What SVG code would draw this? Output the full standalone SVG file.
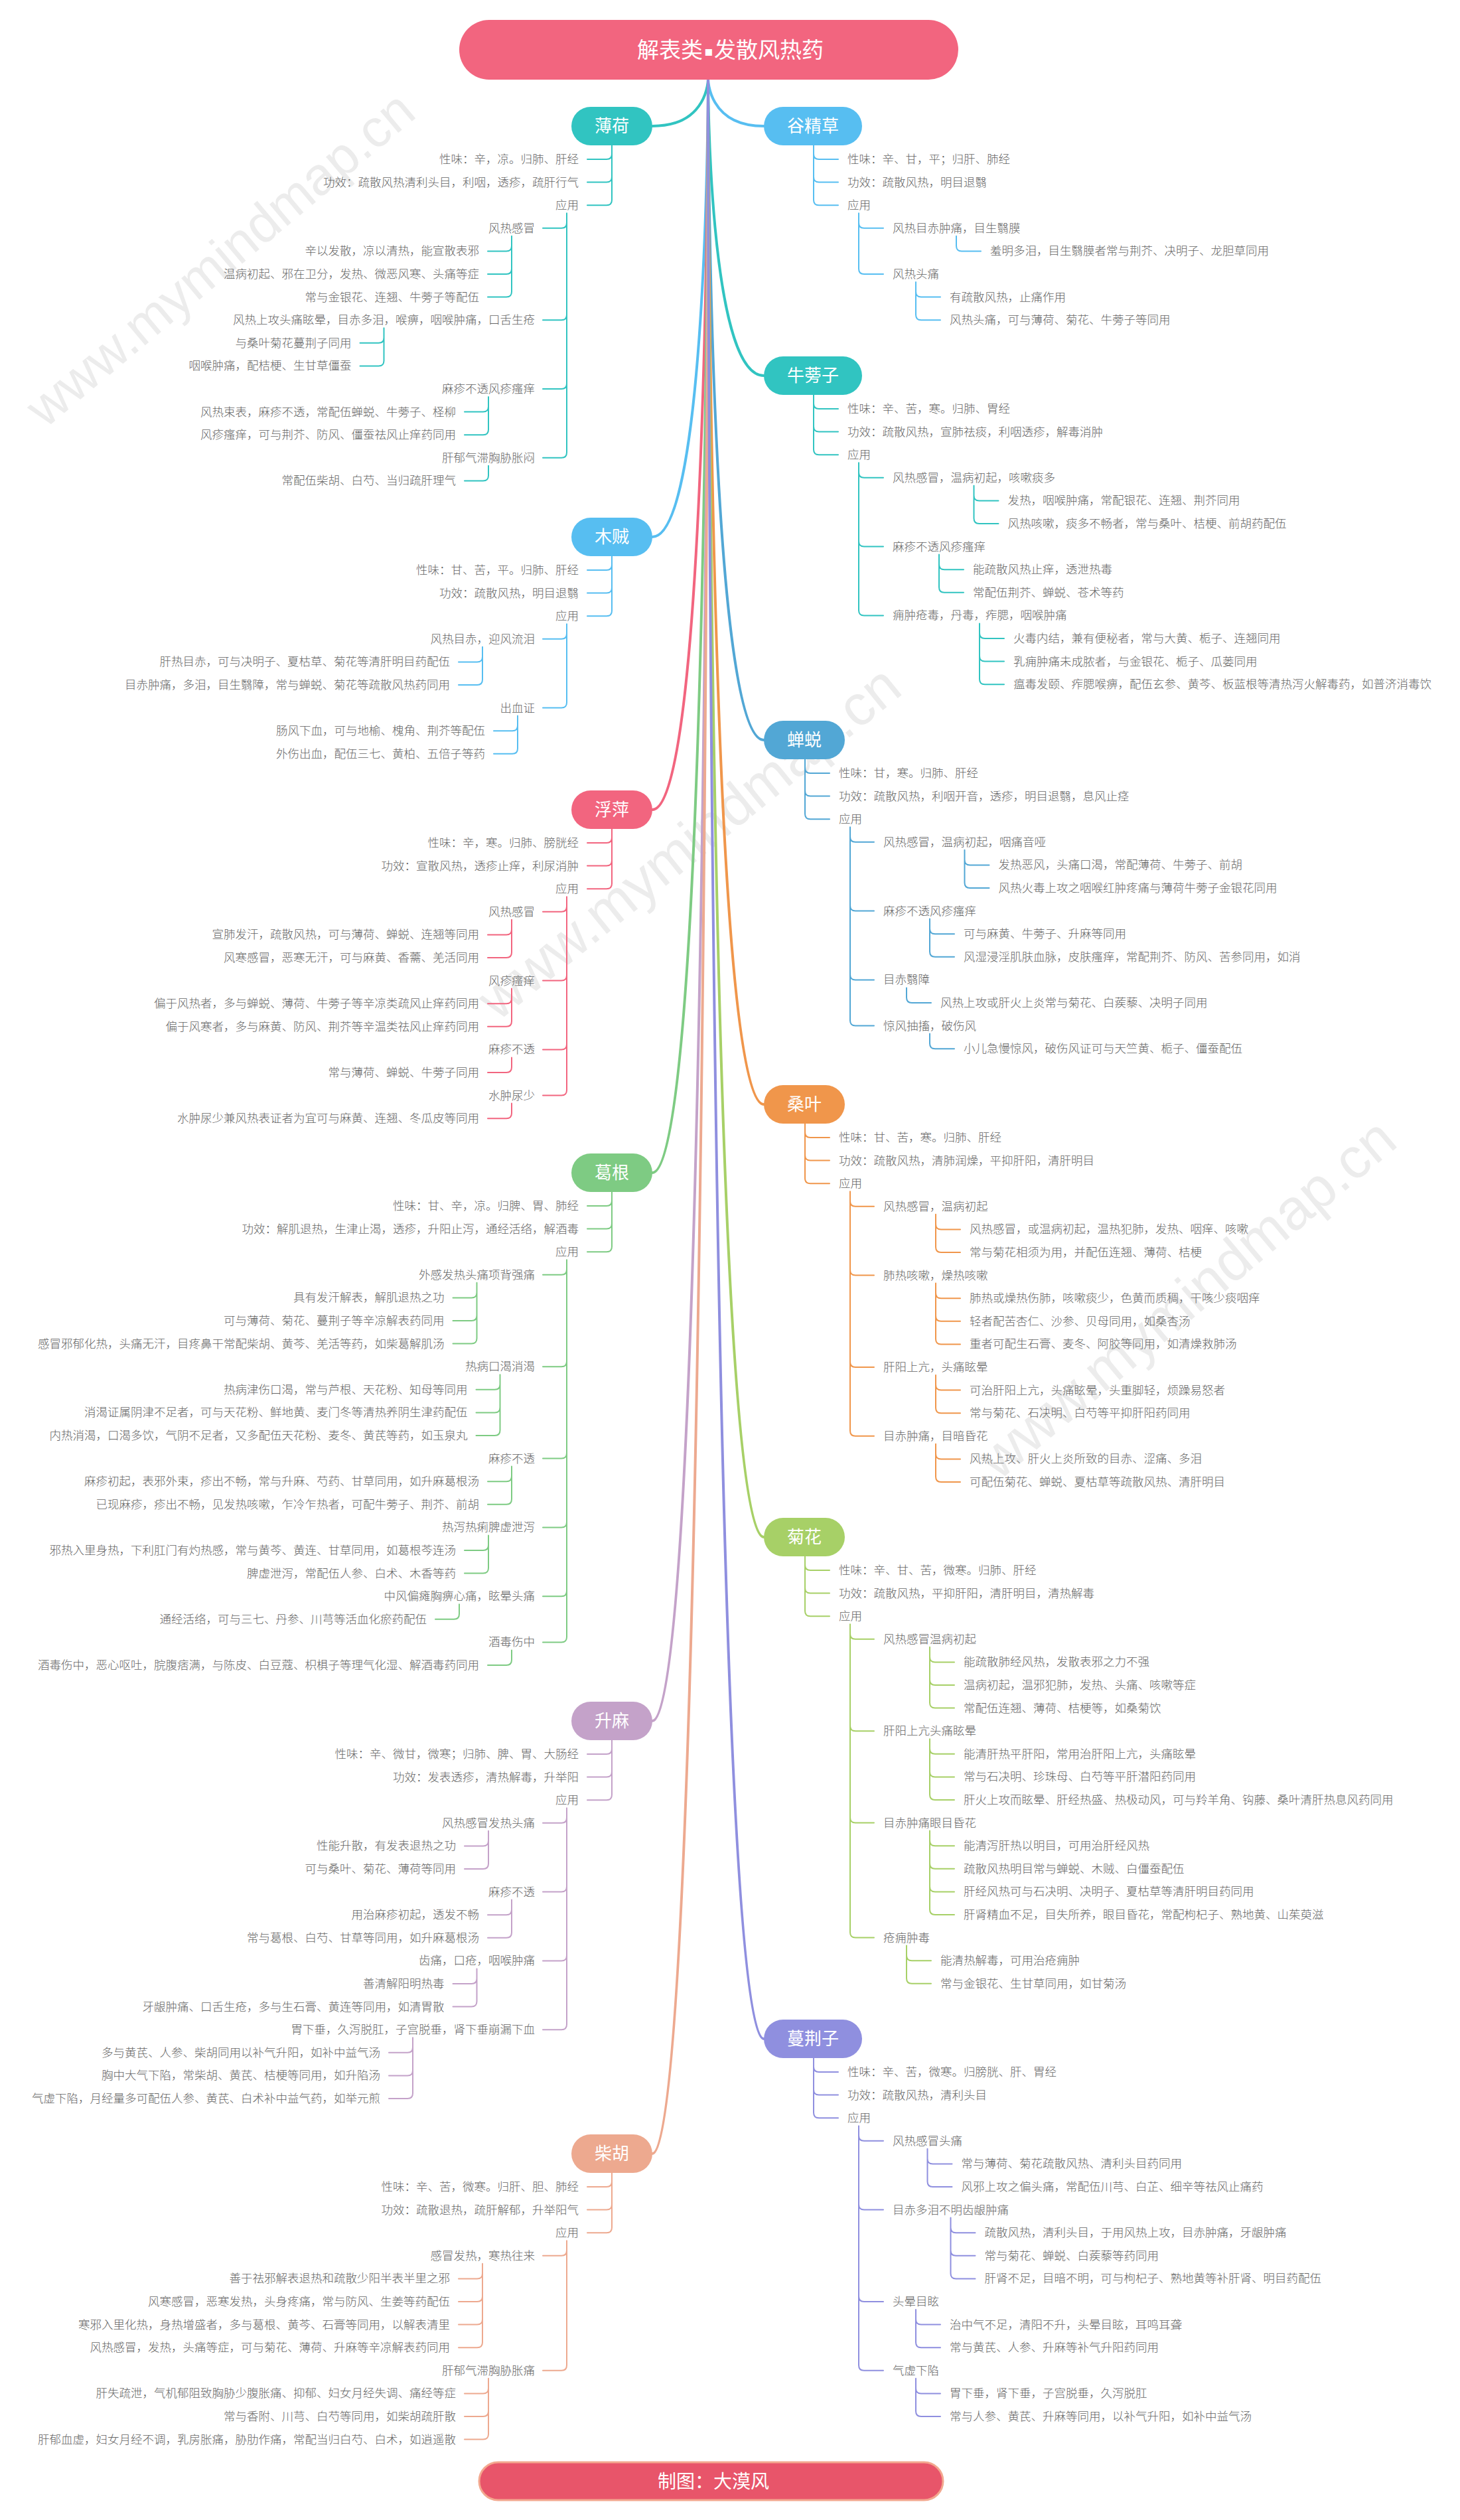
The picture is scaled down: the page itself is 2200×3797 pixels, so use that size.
<svg xmlns="http://www.w3.org/2000/svg" width="2200" height="3797" viewBox="0 0 2200 3797">
<style>
.t{font-family:"Noto Sans CJK SC","Noto Sans CJK JP",sans-serif;font-size:17.5px;fill:#666;font-weight:300}
.e{text-anchor:end}
.nl{font-family:"Noto Sans CJK SC","Noto Sans CJK JP",sans-serif;font-size:26px;fill:#fff;text-anchor:middle}
.mb{fill:none;stroke-width:4;stroke-linecap:round}
.sb{fill:none;stroke-width:2;stroke-linecap:round}
.wm{font-family:"Liberation Sans",sans-serif;font-size:86px;fill:#ececec}
.teal{stroke:#31C4C1}.ftteal{fill:#31C4C1}
.lb{stroke:#57BEF1}.flb{fill:#57BEF1}
.sbl{stroke:#52A7D5}.fsbl{fill:#52A7D5}
.pk{stroke:#F2657F}.fpk{fill:#F2657F}
.or{stroke:#F0964B}.for{fill:#F0964B}
.gr{stroke:#7ECB83}.fgr{fill:#7ECB83}
.yg{stroke:#A7D067}.fyg{fill:#A7D067}
.pu{stroke:#C4A2C9}.fpu{fill:#C4A2C9}
.pw{stroke:#8F8FDF}.fpw{fill:#8F8FDF}
.sa{stroke:#EDA98F}.fsa{fill:#EDA98F}
</style>
<rect width="2200" height="3797" fill="#fff"/>
<g id="watermarks">
<text class="wm" text-anchor="end" font-size="80" style="font-size:80px" transform="translate(630,175) rotate(-40)">www.mymindmap.cn</text>
<text class="wm" transform="translate(750,1540) rotate(-39)">www.mymindmap.cn</text>
<text class="wm" transform="translate(1505,2232) rotate(-40)">www.mymindmap.cn</text>
</g>
<g id="connectors">
<g id="main-branches">
<path class="mb teal" d="M1067,119C1067,119 1067,190 983,190"/>
<path class="mb lb" d="M1067,119C1067,119 1067,809 983,809"/>
<path class="mb pk" d="M1067,119C1067,119 1067,1220 983,1220"/>
<path class="mb gr" d="M1067,119C1067,119 1067,1767 983,1767"/>
<path class="mb pu" d="M1067,119C1067,119 1067,2593 983,2593"/>
<path class="mb sa" d="M1067,119C1067,119 1067,3245 983,3245"/>
<path class="mb lb" d="M1067,119C1067,119 1067,190 1151,190"/>
<path class="mb teal" d="M1067,119C1067,119 1067,566 1151,566"/>
<path class="mb sbl" d="M1067,119C1067,119 1067,1115 1151,1115"/>
<path class="mb or" d="M1067,119C1067,119 1067,1664 1151,1664"/>
<path class="mb yg" d="M1067,119C1067,119 1067,2316 1151,2316"/>
<path class="mb pw" d="M1067,119C1067,119 1067,3072 1151,3072"/>
</g>
<g id="c-bohe" class="sb teal">
<path d="M922,219V301.2 M922,232Q922,240 914,240H885 M922,266.6Q922,274.6 914,274.6H885 M922,301.2Q922,309.2 914,309.2H885"/>
<path d="M854,321.2V681.8 M854,335.8Q854,343.8 846,343.8H818 M854,474.2Q854,482.2 846,482.2H818 M854,578Q854,586 846,586H818 M854,681.8Q854,689.8 846,689.8H818"/>
<path d="M771,355.8V439.6 M771,370.4Q771,378.4 763,378.4H735 M771,405Q771,413 763,413H735 M771,439.6Q771,447.6 763,447.6H735"/>
<path d="M578.5,494.2V543.4 M578.5,508.8Q578.5,516.8 570.5,516.8H542.5 M578.5,543.4Q578.5,551.4 570.5,551.4H542.5"/>
<path d="M736,598V647.2 M736,612.6Q736,620.6 728,620.6H700 M736,647.2Q736,655.2 728,655.2H700"/>
<path d="M736,701.8V716.4Q736,724.4 728,724.4H700"/>
</g>
<g id="c-muzei" class="sb lb">
<path d="M922,838V920.2 M922,851Q922,859 914,859H885 M922,885.6Q922,893.6 914,893.6H885 M922,920.2Q922,928.2 914,928.2H885"/>
<path d="M854,940.2V1058.6 M854,954.8Q854,962.8 846,962.8H818 M854,1058.6Q854,1066.6 846,1066.6H818"/>
<path d="M727,974.8V1024 M727,989.4Q727,997.4 719,997.4H691 M727,1024Q727,1032 719,1032H691"/>
<path d="M780,1078.6V1127.8 M780,1093.2Q780,1101.2 772,1101.2H744 M780,1127.8Q780,1135.8 772,1135.8H744"/>
</g>
<g id="c-fuping" class="sb pk">
<path d="M922,1249V1331.2 M922,1262Q922,1270 914,1270H885 M922,1296.6Q922,1304.6 914,1304.6H885 M922,1331.2Q922,1339.2 914,1339.2H885"/>
<path d="M854,1351.2V1642.6 M854,1365.8Q854,1373.8 846,1373.8H818 M854,1469.6Q854,1477.6 846,1477.6H818 M854,1573.4Q854,1581.4 846,1581.4H818 M854,1642.6Q854,1650.6 846,1650.6H818"/>
<path d="M771,1385.8V1435 M771,1400.4Q771,1408.4 763,1408.4H735 M771,1435Q771,1443 763,1443H735"/>
<path d="M771,1489.6V1538.8 M771,1504.2Q771,1512.2 763,1512.2H735 M771,1538.8Q771,1546.8 763,1546.8H735"/>
<path d="M771,1593.4V1608Q771,1616 763,1616H735"/>
<path d="M771,1662.6V1677.2Q771,1685.2 763,1685.2H735"/>
</g>
<g id="c-gegen" class="sb gr">
<path d="M922,1796V1878.2 M922,1809Q922,1817 914,1817H885 M922,1843.6Q922,1851.6 914,1851.6H885 M922,1878.2Q922,1886.2 914,1886.2H885"/>
<path d="M854,1898.2V2466.4 M854,1912.8Q854,1920.8 846,1920.8H818 M854,2051.2Q854,2059.2 846,2059.2H818 M854,2189.6Q854,2197.6 846,2197.6H818 M854,2293.4Q854,2301.4 846,2301.4H818 M854,2397.2Q854,2405.2 846,2405.2H818 M854,2466.4Q854,2474.4 846,2474.4H818"/>
<path d="M718.5,1932.8V2016.6 M718.5,1947.4Q718.5,1955.4 710.5,1955.4H682.5 M718.5,1982Q718.5,1990 710.5,1990H682.5 M718.5,2016.6Q718.5,2024.6 710.5,2024.6H682.5"/>
<path d="M753.5,2071.2V2155 M753.5,2085.8Q753.5,2093.8 745.5,2093.8H717.5 M753.5,2120.4Q753.5,2128.4 745.5,2128.4H717.5 M753.5,2155Q753.5,2163 745.5,2163H717.5"/>
<path d="M771,2209.6V2258.8 M771,2224.2Q771,2232.2 763,2232.2H735 M771,2258.8Q771,2266.8 763,2266.8H735"/>
<path d="M736,2313.4V2362.6 M736,2328Q736,2336 728,2336H700 M736,2362.6Q736,2370.6 728,2370.6H700"/>
<path d="M692,2417.2V2431.8Q692,2439.8 684,2439.8H656"/>
<path d="M771,2486.4V2501Q771,2509 763,2509H735"/>
</g>
<g id="c-shengma" class="sb pu">
<path d="M922,2622V2704.2 M922,2635Q922,2643 914,2643H885 M922,2669.6Q922,2677.6 914,2677.6H885 M922,2704.2Q922,2712.2 914,2712.2H885"/>
<path d="M854,2724.2V3050.2 M854,2738.8Q854,2746.8 846,2746.8H818 M854,2842.6Q854,2850.6 846,2850.6H818 M854,2946.4Q854,2954.4 846,2954.4H818 M854,3050.2Q854,3058.2 846,3058.2H818"/>
<path d="M736,2758.8V2808 M736,2773.4Q736,2781.4 728,2781.4H700 M736,2808Q736,2816 728,2816H700"/>
<path d="M771,2862.6V2911.8 M771,2877.2Q771,2885.2 763,2885.2H735 M771,2911.8Q771,2919.8 763,2919.8H735"/>
<path d="M718.5,2966.4V3015.6 M718.5,2981Q718.5,2989 710.5,2989H682.5 M718.5,3015.6Q718.5,3023.6 710.5,3023.6H682.5"/>
<path d="M622,3070.2V3154 M622,3084.8Q622,3092.8 614,3092.8H586 M622,3119.4Q622,3127.4 614,3127.4H586 M622,3154Q622,3162 614,3162H586"/>
</g>
<g id="c-chaihu" class="sb sa">
<path d="M922,3274V3356.2 M922,3287Q922,3295 914,3295H885 M922,3321.6Q922,3329.6 914,3329.6H885 M922,3356.2Q922,3364.2 914,3364.2H885"/>
<path d="M854,3376.2V3563.8 M854,3390.8Q854,3398.8 846,3398.8H818 M854,3563.8Q854,3571.8 846,3571.8H818"/>
<path d="M727,3410.8V3529.2 M727,3425.4Q727,3433.4 719,3433.4H691 M727,3460Q727,3468 719,3468H691 M727,3494.6Q727,3502.6 719,3502.6H691 M727,3529.2Q727,3537.2 719,3537.2H691"/>
<path d="M736,3583.8V3667.6 M736,3598.4Q736,3606.4 728,3606.4H700 M736,3633Q736,3641 728,3641H700 M736,3667.6Q736,3675.6 728,3675.6H700"/>
</g>
<g id="c-gujingcao" class="sb lb">
<path d="M1226,219V301.2 M1226,232Q1226,240 1234,240H1263 M1226,266.6Q1226,274.6 1234,274.6H1263 M1226,301.2Q1226,309.2 1234,309.2H1263"/>
<path d="M1294,321.2V405 M1294,335.8Q1294,343.8 1302,343.8H1331 M1294,405Q1294,413 1302,413H1331"/>
<path d="M1441,355.8V370.4Q1441,378.4 1449,378.4H1478"/>
<path d="M1380,425V474.2 M1380,439.6Q1380,447.6 1388,447.6H1417 M1380,474.2Q1380,482.2 1388,482.2H1417"/>
</g>
<g id="c-niubangzi" class="sb teal">
<path d="M1226,595V677.2 M1226,608Q1226,616 1234,616H1263 M1226,642.6Q1226,650.6 1234,650.6H1263 M1226,677.2Q1226,685.2 1234,685.2H1263"/>
<path d="M1294,697.2V919.4 M1294,711.8Q1294,719.8 1302,719.8H1331 M1294,815.6Q1294,823.6 1302,823.6H1331 M1294,919.4Q1294,927.4 1302,927.4H1331"/>
<path d="M1467.5,731.8V781 M1467.5,746.4Q1467.5,754.4 1475.5,754.4H1504.5 M1467.5,781Q1467.5,789 1475.5,789H1504.5"/>
<path d="M1415,835.6V884.8 M1415,850.2Q1415,858.2 1423,858.2H1452 M1415,884.8Q1415,892.8 1423,892.8H1452"/>
<path d="M1476,939.4V1023.2 M1476,954Q1476,962 1484,962H1513 M1476,988.6Q1476,996.6 1484,996.6H1513 M1476,1023.2Q1476,1031.2 1484,1031.2H1513"/>
</g>
<g id="c-chantui" class="sb sbl">
<path d="M1213,1144V1226.2 M1213,1157Q1213,1165 1221,1165H1250 M1213,1191.6Q1213,1199.6 1221,1199.6H1250 M1213,1226.2Q1213,1234.2 1221,1234.2H1250"/>
<path d="M1281,1246.2V1537.6 M1281,1260.8Q1281,1268.8 1289,1268.8H1317 M1281,1364.6Q1281,1372.6 1289,1372.6H1317 M1281,1468.4Q1281,1476.4 1289,1476.4H1317 M1281,1537.6Q1281,1545.6 1289,1545.6H1317"/>
<path d="M1453.5,1280.8V1330 M1453.5,1295.4Q1453.5,1303.4 1461.5,1303.4H1490.5 M1453.5,1330Q1453.5,1338 1461.5,1338H1490.5"/>
<path d="M1401,1384.6V1433.8 M1401,1399.2Q1401,1407.2 1409,1407.2H1438 M1401,1433.8Q1401,1441.8 1409,1441.8H1438"/>
<path d="M1366,1488.4V1503Q1366,1511 1374,1511H1403"/>
<path d="M1401,1557.6V1572.2Q1401,1580.2 1409,1580.2H1438"/>
</g>
<g id="c-sangye" class="sb or">
<path d="M1213,1693V1775.2 M1213,1706Q1213,1714 1221,1714H1250 M1213,1740.6Q1213,1748.6 1221,1748.6H1250 M1213,1775.2Q1213,1783.2 1221,1783.2H1250"/>
<path d="M1281,1795.2V2155.8 M1281,1809.8Q1281,1817.8 1289,1817.8H1317 M1281,1913.6Q1281,1921.6 1289,1921.6H1317 M1281,2052Q1281,2060 1289,2060H1317 M1281,2155.8Q1281,2163.8 1289,2163.8H1317"/>
<path d="M1410,1829.8V1879 M1410,1844.4Q1410,1852.4 1418,1852.4H1447 M1410,1879Q1410,1887 1418,1887H1447"/>
<path d="M1410,1933.6V2017.4 M1410,1948.2Q1410,1956.2 1418,1956.2H1447 M1410,1982.8Q1410,1990.8 1418,1990.8H1447 M1410,2017.4Q1410,2025.4 1418,2025.4H1447"/>
<path d="M1410,2072V2121.2 M1410,2086.6Q1410,2094.6 1418,2094.6H1447 M1410,2121.2Q1410,2129.2 1418,2129.2H1447"/>
<path d="M1410,2175.8V2225 M1410,2190.4Q1410,2198.4 1418,2198.4H1447 M1410,2225Q1410,2233 1418,2233H1447"/>
</g>
<g id="c-juhua" class="sb yg">
<path d="M1213,2345V2427.2 M1213,2358Q1213,2366 1221,2366H1250 M1213,2392.6Q1213,2400.6 1221,2400.6H1250 M1213,2427.2Q1213,2435.2 1221,2435.2H1250"/>
<path d="M1281,2447.2V2911.6 M1281,2461.8Q1281,2469.8 1289,2469.8H1317 M1281,2600.2Q1281,2608.2 1289,2608.2H1317 M1281,2738.6Q1281,2746.6 1289,2746.6H1317 M1281,2911.6Q1281,2919.6 1289,2919.6H1317"/>
<path d="M1401,2481.8V2565.6 M1401,2496.4Q1401,2504.4 1409,2504.4H1438 M1401,2531Q1401,2539 1409,2539H1438 M1401,2565.6Q1401,2573.6 1409,2573.6H1438"/>
<path d="M1401,2620.2V2704 M1401,2634.8Q1401,2642.8 1409,2642.8H1438 M1401,2669.4Q1401,2677.4 1409,2677.4H1438 M1401,2704Q1401,2712 1409,2712H1438"/>
<path d="M1401,2758.6V2877 M1401,2773.2Q1401,2781.2 1409,2781.2H1438 M1401,2807.8Q1401,2815.8 1409,2815.8H1438 M1401,2842.4Q1401,2850.4 1409,2850.4H1438 M1401,2877Q1401,2885 1409,2885H1438"/>
<path d="M1366,2931.6V2980.8 M1366,2946.2Q1366,2954.2 1374,2954.2H1403 M1366,2980.8Q1366,2988.8 1374,2988.8H1403"/>
</g>
<g id="c-manjingzi" class="sb pw">
<path d="M1226,3101V3183.2 M1226,3114Q1226,3122 1234,3122H1263 M1226,3148.6Q1226,3156.6 1234,3156.6H1263 M1226,3183.2Q1226,3191.2 1234,3191.2H1263"/>
<path d="M1294,3203.2V3563.8 M1294,3217.8Q1294,3225.8 1302,3225.8H1331 M1294,3321.6Q1294,3329.6 1302,3329.6H1331 M1294,3460Q1294,3468 1302,3468H1331 M1294,3563.8Q1294,3571.8 1302,3571.8H1331"/>
<path d="M1397.5,3237.8V3287 M1397.5,3252.4Q1397.5,3260.4 1405.5,3260.4H1434.5 M1397.5,3287Q1397.5,3295 1405.5,3295H1434.5"/>
<path d="M1432.5,3341.6V3425.4 M1432.5,3356.2Q1432.5,3364.2 1440.5,3364.2H1469.5 M1432.5,3390.8Q1432.5,3398.8 1440.5,3398.8H1469.5 M1432.5,3425.4Q1432.5,3433.4 1440.5,3433.4H1469.5"/>
<path d="M1380,3480V3529.2 M1380,3494.6Q1380,3502.6 1388,3502.6H1417 M1380,3529.2Q1380,3537.2 1388,3537.2H1417"/>
<path d="M1380,3583.8V3633 M1380,3598.4Q1380,3606.4 1388,3606.4H1417 M1380,3633Q1380,3641 1388,3641H1417"/>
</g>
</g>
<g id="title">
<rect x="692" y="30" width="752" height="90" rx="45" fill="#F2657F"/>
<text font-family="Noto Sans CJK SC, Noto Sans CJK JP, sans-serif" font-size="33" fill="#fff"><tspan x="960" y="87">解表类</tspan><tspan x="1061" y="84" font-family="DejaVu Sans, sans-serif" font-size="20">▪</tspan><tspan x="1076" y="87">发散风热药</tspan></text>
</g>
<g id="n-bohe">
<rect class="ftteal" x="861" y="161" width="122" height="58" rx="29"/>
<text class="nl" x="922" y="199">薄荷</text>
<text class="t e" x="872" y="246">性味：辛，凉。归肺、肝经</text>
<text class="t e" x="872" y="280.6">功效：疏散风热清利头目，利咽，透疹，疏肝行气</text>
<text class="t e" x="872" y="315.2">应用</text>
<text class="t e" x="806" y="349.8">风热感冒</text>
<text class="t e" x="722" y="384.4">辛以发散，凉以清热，能宣散表邪</text>
<text class="t e" x="722" y="419">温病初起、邪在卫分，发热、微恶风寒、头痛等症</text>
<text class="t e" x="722" y="453.6">常与金银花、连翘、牛蒡子等配伍</text>
<text class="t e" x="806" y="488.2">风热上攻头痛眩晕，目赤多泪，喉痹，咽喉肿痛，口舌生疮</text>
<text class="t e" x="529.5" y="522.8">与桑叶菊花蔓荆子同用</text>
<text class="t e" x="529.5" y="557.4">咽喉肿痛，配桔梗、生甘草僵蚕</text>
<text class="t e" x="806" y="592">麻疹不透风疹瘙痒</text>
<text class="t e" x="687" y="626.6">风热束表，麻疹不透，常配伍蝉蜕、牛蒡子、柽柳</text>
<text class="t e" x="687" y="661.2">风疹瘙痒，可与荆芥、防风、僵蚕祛风止痒药同用</text>
<text class="t e" x="806" y="695.8">肝郁气滞胸胁胀闷</text>
<text class="t e" x="687" y="730.4">常配伍柴胡、白芍、当归疏肝理气</text>
</g>
<g id="n-muzei">
<rect class="flb" x="861" y="780" width="122" height="58" rx="29"/>
<text class="nl" x="922" y="818">木贼</text>
<text class="t e" x="872" y="865">性味：甘、苦，平。归肺、肝经</text>
<text class="t e" x="872" y="899.6">功效：疏散风热，明目退翳</text>
<text class="t e" x="872" y="934.2">应用</text>
<text class="t e" x="806" y="968.8">风热目赤，迎风流泪</text>
<text class="t e" x="678" y="1003.4">肝热目赤，可与决明子、夏枯草、菊花等清肝明目药配伍</text>
<text class="t e" x="678" y="1038">目赤肿痛，多泪，目生翳障，常与蝉蜕、菊花等疏散风热药同用</text>
<text class="t e" x="806" y="1072.6">出血证</text>
<text class="t e" x="731" y="1107.2">肠风下血，可与地榆、槐角、荆芥等配伍</text>
<text class="t e" x="731" y="1141.8">外伤出血，配伍三七、黄柏、五倍子等药</text>
</g>
<g id="n-fuping">
<rect class="fpk" x="861" y="1191" width="122" height="58" rx="29"/>
<text class="nl" x="922" y="1229">浮萍</text>
<text class="t e" x="872" y="1276">性味：辛，寒。归肺、膀胱经</text>
<text class="t e" x="872" y="1310.6">功效：宣散风热，透疹止痒，利尿消肿</text>
<text class="t e" x="872" y="1345.2">应用</text>
<text class="t e" x="806" y="1379.8">风热感冒</text>
<text class="t e" x="722" y="1414.4">宣肺发汗，疏散风热，可与薄荷、蝉蜕、连翘等同用</text>
<text class="t e" x="722" y="1449">风寒感冒，恶寒无汗，可与麻黄、香薷、羌活同用</text>
<text class="t e" x="806" y="1483.6">风疹瘙痒</text>
<text class="t e" x="722" y="1518.2">偏于风热者，多与蝉蜕、薄荷、牛蒡子等辛凉类疏风止痒药同用</text>
<text class="t e" x="722" y="1552.8">偏于风寒者，多与麻黄、防风、荆芥等辛温类祛风止痒药同用</text>
<text class="t e" x="806" y="1587.4">麻疹不透</text>
<text class="t e" x="722" y="1622">常与薄荷、蝉蜕、牛蒡子同用</text>
<text class="t e" x="806" y="1656.6">水肿尿少</text>
<text class="t e" x="722" y="1691.2">水肿尿少兼风热表证者为宜可与麻黄、连翘、冬瓜皮等同用</text>
</g>
<g id="n-gegen">
<rect class="fgr" x="861" y="1738" width="122" height="58" rx="29"/>
<text class="nl" x="922" y="1776">葛根</text>
<text class="t e" x="872" y="1823">性味：甘、辛，凉。归脾、胃、肺经</text>
<text class="t e" x="872" y="1857.6">功效：解肌退热，生津止渴，透疹，升阳止泻，通经活络，解酒毒</text>
<text class="t e" x="872" y="1892.2">应用</text>
<text class="t e" x="806" y="1926.8">外感发热头痛项背强痛</text>
<text class="t e" x="669.5" y="1961.4">具有发汗解表，解肌退热之功</text>
<text class="t e" x="669.5" y="1996">可与薄荷、菊花、蔓荆子等辛凉解表药同用</text>
<text class="t e" x="669.5" y="2030.6">感冒邪郁化热，头痛无汗，目疼鼻干常配柴胡、黄芩、羌活等药，如柴葛解肌汤</text>
<text class="t e" x="806" y="2065.2">热病口渴消渴</text>
<text class="t e" x="704.5" y="2099.8">热病津伤口渴，常与芦根、天花粉、知母等同用</text>
<text class="t e" x="704.5" y="2134.4">消渴证属阴津不足者，可与天花粉、鲜地黄、麦门冬等清热养阴生津药配伍</text>
<text class="t e" x="704.5" y="2169">内热消渴，口渴多饮，气阴不足者，又多配伍天花粉、麦冬、黄芪等药，如玉泉丸</text>
<text class="t e" x="806" y="2203.6">麻疹不透</text>
<text class="t e" x="722" y="2238.2">麻疹初起，表邪外束，疹出不畅，常与升麻、芍药、甘草同用，如升麻葛根汤</text>
<text class="t e" x="722" y="2272.8">已现麻疹，疹出不畅，见发热咳嗽，乍冷乍热者，可配牛蒡子、荆芥、前胡</text>
<text class="t e" x="806" y="2307.4">热泻热痢脾虚泄泻</text>
<text class="t e" x="687" y="2342">邪热入里身热，下利肛门有灼热感，常与黄芩、黄连、甘草同用，如葛根芩连汤</text>
<text class="t e" x="687" y="2376.6">脾虚泄泻，常配伍人参、白术、木香等药</text>
<text class="t e" x="806" y="2411.2">中风偏瘫胸痹心痛，眩晕头痛</text>
<text class="t e" x="643" y="2445.8">通经活络，可与三七、丹参、川芎等活血化瘀药配伍</text>
<text class="t e" x="806" y="2480.4">酒毒伤中</text>
<text class="t e" x="722" y="2515">酒毒伤中，恶心呕吐，脘腹痞满，与陈皮、白豆蔻、枳椇子等理气化湿、解酒毒药同用</text>
</g>
<g id="n-shengma">
<rect class="fpu" x="861" y="2564" width="122" height="58" rx="29"/>
<text class="nl" x="922" y="2602">升麻</text>
<text class="t e" x="872" y="2649">性味：辛、微甘，微寒；归肺、脾、胃、大肠经</text>
<text class="t e" x="872" y="2683.6">功效：发表透疹，清热解毒，升举阳</text>
<text class="t e" x="872" y="2718.2">应用</text>
<text class="t e" x="806" y="2752.8">风热感冒发热头痛</text>
<text class="t e" x="687" y="2787.4">性能升散，有发表退热之功</text>
<text class="t e" x="687" y="2822">可与桑叶、菊花、薄荷等同用</text>
<text class="t e" x="806" y="2856.6">麻疹不透</text>
<text class="t e" x="722" y="2891.2">用治麻疹初起，透发不畅</text>
<text class="t e" x="722" y="2925.8">常与葛根、白芍、甘草等同用，如升麻葛根汤</text>
<text class="t e" x="806" y="2960.4">齿痛，口疮，咽喉肿痛</text>
<text class="t e" x="669.5" y="2995">善清解阳明热毒</text>
<text class="t e" x="669.5" y="3029.6">牙龈肿痛、口舌生疮，多与生石膏、黄连等同用，如清胃散</text>
<text class="t e" x="806" y="3064.2">胃下垂，久泻脱肛，子宫脱垂，肾下垂崩漏下血</text>
<text class="t e" x="573" y="3098.8">多与黄芪、人参、柴胡同用以补气升阳，如补中益气汤</text>
<text class="t e" x="573" y="3133.4">胸中大气下陷，常柴胡、黄芪、桔梗等同用，如升陷汤</text>
<text class="t e" x="573" y="3168">气虚下陷，月经量多可配伍人参、黄芪、白术补中益气药，如举元煎</text>
</g>
<g id="n-chaihu">
<rect class="fsa" x="861" y="3216" width="122" height="58" rx="29"/>
<text class="nl" x="922" y="3254">柴胡</text>
<text class="t e" x="872" y="3301">性味：辛、苦，微寒。归肝、胆、肺经</text>
<text class="t e" x="872" y="3335.6">功效：疏散退热，疏肝解郁，升举阳气</text>
<text class="t e" x="872" y="3370.2">应用</text>
<text class="t e" x="806" y="3404.8">感冒发热，寒热往来</text>
<text class="t e" x="678" y="3439.4">善于祛邪解表退热和疏散少阳半表半里之邪</text>
<text class="t e" x="678" y="3474">风寒感冒，恶寒发热，头身疼痛，常与防风、生姜等药配伍</text>
<text class="t e" x="678" y="3508.6">寒邪入里化热，身热增盛者，多与葛根、黄芩、石膏等同用，以解表清里</text>
<text class="t e" x="678" y="3543.2">风热感冒，发热，头痛等症，可与菊花、薄荷、升麻等辛凉解表药同用</text>
<text class="t e" x="806" y="3577.8">肝郁气滞胸胁胀痛</text>
<text class="t e" x="687" y="3612.4">肝失疏泄，气机郁阻致胸胁少腹胀痛、抑郁、妇女月经失调、痛经等症</text>
<text class="t e" x="687" y="3647">常与香附、川芎、白芍等同用，如柴胡疏肝散</text>
<text class="t e" x="687" y="3681.6">肝郁血虚，妇女月经不调，乳房胀痛，胁肋作痛，常配当归白芍、白术，如逍遥散</text>
</g>
<g id="n-gujingcao">
<rect class="flb" x="1151" y="161" width="148" height="58" rx="29"/>
<text class="nl" x="1225" y="199">谷精草</text>
<text class="t" x="1277" y="246">性味：辛、甘，平；归肝、肺经</text>
<text class="t" x="1277" y="280.6">功效：疏散风热，明目退翳</text>
<text class="t" x="1277" y="315.2">应用</text>
<text class="t" x="1345" y="349.8">风热目赤肿痛，目生翳膜</text>
<text class="t" x="1492" y="384.4">羞明多泪，目生翳膜者常与荆芥、决明子、龙胆草同用</text>
<text class="t" x="1345" y="419">风热头痛</text>
<text class="t" x="1431" y="453.6">有疏散风热，止痛作用</text>
<text class="t" x="1431" y="488.2">风热头痛，可与薄荷、菊花、牛蒡子等同用</text>
</g>
<g id="n-niubangzi">
<rect class="ftteal" x="1151" y="537" width="148" height="58" rx="29"/>
<text class="nl" x="1225" y="575">牛蒡子</text>
<text class="t" x="1277" y="622">性味：辛、苦，寒。归肺、胃经</text>
<text class="t" x="1277" y="656.6">功效：疏散风热，宣肺祛痰，利咽透疹，解毒消肿</text>
<text class="t" x="1277" y="691.2">应用</text>
<text class="t" x="1345" y="725.8">风热感冒，温病初起，咳嗽痰多</text>
<text class="t" x="1518.5" y="760.4">发热，咽喉肿痛，常配银花、连翘、荆芥同用</text>
<text class="t" x="1518.5" y="795">风热咳嗽，痰多不畅者，常与桑叶、桔梗、前胡药配伍</text>
<text class="t" x="1345" y="829.6">麻疹不透风疹瘙痒</text>
<text class="t" x="1466" y="864.2">能疏散风热止痒，透泄热毒</text>
<text class="t" x="1466" y="898.8">常配伍荆芥、蝉蜕、苍术等药</text>
<text class="t" x="1345" y="933.4">痈肿疮毒，丹毒，痄腮，咽喉肿痛</text>
<text class="t" x="1527" y="968">火毒内结，兼有便秘者，常与大黄、栀子、连翘同用</text>
<text class="t" x="1527" y="1002.6">乳痈肿痛未成脓者，与金银花、栀子、瓜蒌同用</text>
<text class="t" x="1527" y="1037.2">瘟毒发颐、痄腮喉痹，配伍玄参、黄芩、板蓝根等清热泻火解毒药，如普济消毒饮</text>
</g>
<g id="n-chantui">
<rect class="fsbl" x="1151" y="1086" width="122" height="58" rx="29"/>
<text class="nl" x="1212" y="1124">蝉蜕</text>
<text class="t" x="1264" y="1171">性味：甘，寒。归肺、肝经</text>
<text class="t" x="1264" y="1205.6">功效：疏散风热，利咽开音，透疹，明目退翳，息风止痉</text>
<text class="t" x="1264" y="1240.2">应用</text>
<text class="t" x="1331" y="1274.8">风热感冒，温病初起，咽痛音哑</text>
<text class="t" x="1504.5" y="1309.4">发热恶风，头痛口渴，常配薄荷、牛蒡子、前胡</text>
<text class="t" x="1504.5" y="1344">风热火毒上攻之咽喉红肿疼痛与薄荷牛蒡子金银花同用</text>
<text class="t" x="1331" y="1378.6">麻疹不透风疹瘙痒</text>
<text class="t" x="1452" y="1413.2">可与麻黄、牛蒡子、升麻等同用</text>
<text class="t" x="1452" y="1447.8">风湿浸淫肌肤血脉，皮肤瘙痒，常配荆芥、防风、苦参同用，如消</text>
<text class="t" x="1331" y="1482.4">目赤翳障</text>
<text class="t" x="1417" y="1517">风热上攻或肝火上炎常与菊花、白蒺藜、决明子同用</text>
<text class="t" x="1331" y="1551.6">惊风抽搐，破伤风</text>
<text class="t" x="1452" y="1586.2">小儿急慢惊风，破伤风证可与天竺黄、栀子、僵蚕配伍</text>
</g>
<g id="n-sangye">
<rect class="for" x="1151" y="1635" width="122" height="58" rx="29"/>
<text class="nl" x="1212" y="1673">桑叶</text>
<text class="t" x="1264" y="1720">性味：甘、苦，寒。归肺、肝经</text>
<text class="t" x="1264" y="1754.6">功效：疏散风热，清肺润燥，平抑肝阳，清肝明目</text>
<text class="t" x="1264" y="1789.2">应用</text>
<text class="t" x="1331" y="1823.8">风热感冒，温病初起</text>
<text class="t" x="1461" y="1858.4">风热感冒，或温病初起，温热犯肺，发热、咽痒、咳嗽</text>
<text class="t" x="1461" y="1893">常与菊花相须为用，并配伍连翘、薄荷、桔梗</text>
<text class="t" x="1331" y="1927.6">肺热咳嗽，燥热咳嗽</text>
<text class="t" x="1461" y="1962.2">肺热或燥热伤肺，咳嗽痰少，色黄而质稠，干咳少痰咽痒</text>
<text class="t" x="1461" y="1996.8">轻者配苦杏仁、沙参、贝母同用，如桑杏汤</text>
<text class="t" x="1461" y="2031.4">重者可配生石膏、麦冬、阿胶等同用，如清燥救肺汤</text>
<text class="t" x="1331" y="2066">肝阳上亢，头痛眩晕</text>
<text class="t" x="1461" y="2100.6">可治肝阳上亢，头痛眩晕，头重脚轻，烦躁易怒者</text>
<text class="t" x="1461" y="2135.2">常与菊花、石决明、白芍等平抑肝阳药同用</text>
<text class="t" x="1331" y="2169.8">目赤肿痛，目暗昏花</text>
<text class="t" x="1461" y="2204.4">风热上攻、肝火上炎所致的目赤、涩痛、多泪</text>
<text class="t" x="1461" y="2239">可配伍菊花、蝉蜕、夏枯草等疏散风热、清肝明目</text>
</g>
<g id="n-juhua">
<rect class="fyg" x="1151" y="2287" width="122" height="58" rx="29"/>
<text class="nl" x="1212" y="2325">菊花</text>
<text class="t" x="1264" y="2372">性味：辛、甘、苦，微寒。归肺、肝经</text>
<text class="t" x="1264" y="2406.6">功效：疏散风热，平抑肝阳，清肝明目，清热解毒</text>
<text class="t" x="1264" y="2441.2">应用</text>
<text class="t" x="1331" y="2475.8">风热感冒温病初起</text>
<text class="t" x="1452" y="2510.4">能疏散肺经风热，发散表邪之力不强</text>
<text class="t" x="1452" y="2545">温病初起，温邪犯肺，发热、头痛、咳嗽等症</text>
<text class="t" x="1452" y="2579.6">常配伍连翘、薄荷、桔梗等，如桑菊饮</text>
<text class="t" x="1331" y="2614.2">肝阳上亢头痛眩晕</text>
<text class="t" x="1452" y="2648.8">能清肝热平肝阳，常用治肝阳上亢，头痛眩晕</text>
<text class="t" x="1452" y="2683.4">常与石决明、珍珠母、白芍等平肝潜阳药同用</text>
<text class="t" x="1452" y="2718">肝火上攻而眩晕、肝经热盛、热极动风，可与羚羊角、钩藤、桑叶清肝热息风药同用</text>
<text class="t" x="1331" y="2752.6">目赤肿痛眼目昏花</text>
<text class="t" x="1452" y="2787.2">能清泻肝热以明目，可用治肝经风热</text>
<text class="t" x="1452" y="2821.8">疏散风热明目常与蝉蜕、木贼、白僵蚕配伍</text>
<text class="t" x="1452" y="2856.4">肝经风热可与石决明、决明子、夏枯草等清肝明目药同用</text>
<text class="t" x="1452" y="2891">肝肾精血不足，目失所养，眼目昏花，常配枸杞子、熟地黄、山茱萸滋</text>
<text class="t" x="1331" y="2925.6">疮痈肿毒</text>
<text class="t" x="1417" y="2960.2">能清热解毒，可用治疮痈肿</text>
<text class="t" x="1417" y="2994.8">常与金银花、生甘草同用，如甘菊汤</text>
</g>
<g id="n-manjingzi">
<rect class="fpw" x="1151" y="3043" width="148" height="58" rx="29"/>
<text class="nl" x="1225" y="3081">蔓荆子</text>
<text class="t" x="1277" y="3128">性味：辛、苦，微寒。归膀胱、肝、胃经</text>
<text class="t" x="1277" y="3162.6">功效：疏散风热，清利头目</text>
<text class="t" x="1277" y="3197.2">应用</text>
<text class="t" x="1345" y="3231.8">风热感冒头痛</text>
<text class="t" x="1448.5" y="3266.4">常与薄荷、菊花疏散风热、清利头目药同用</text>
<text class="t" x="1448.5" y="3301">风邪上攻之偏头痛，常配伍川芎、白芷、细辛等祛风止痛药</text>
<text class="t" x="1345" y="3335.6">目赤多泪不明齿龈肿痛</text>
<text class="t" x="1483.5" y="3370.2">疏散风热，清利头目，于用风热上攻，目赤肿痛，牙龈肿痛</text>
<text class="t" x="1483.5" y="3404.8">常与菊花、蝉蜕、白蒺藜等药同用</text>
<text class="t" x="1483.5" y="3439.4">肝肾不足，目暗不明，可与枸杞子、熟地黄等补肝肾、明目药配伍</text>
<text class="t" x="1345" y="3474">头晕目眩</text>
<text class="t" x="1431" y="3508.6">治中气不足，清阳不升，头晕目眩，耳鸣耳聋</text>
<text class="t" x="1431" y="3543.2">常与黄芪、人参、升麻等补气升阳药同用</text>
<text class="t" x="1345" y="3577.8">气虚下陷</text>
<text class="t" x="1431" y="3612.4">胃下垂，肾下垂，子宫脱垂，久泻脱肛</text>
<text class="t" x="1431" y="3647">常与人参、黄芪、升麻等同用，以补气升阳，如补中益气汤</text>
</g>
<g id="footer">
<rect x="722" y="3710" width="699" height="57" rx="28.5" fill="#E8556A" stroke="#F3A88F" stroke-width="3"/>
<text x="1075" y="3749" font-family="Noto Sans CJK SC, Noto Sans CJK JP, sans-serif" font-size="28" fill="#fff" text-anchor="middle">制图：大漠风</text>
</g>
</svg>
